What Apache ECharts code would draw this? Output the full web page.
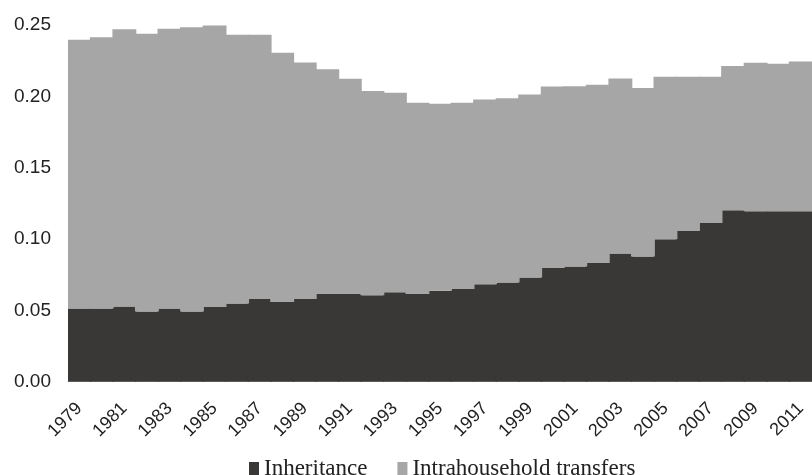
<!DOCTYPE html>
<html>
<head>
<meta charset="utf-8">
<script src="https://cdn.jsdelivr.net/npm/echarts@6/dist/echarts.min.js"></script>
<style>html,body{margin:0;padding:0;background:#fff;}#c{width:812px;height:475px;}</style>
</head>
<body>
<div id="c"></div>
<script>
const years = ['1979','1980','1981','1982','1983','1984','1985','1986','1987','1988','1989','1990','1991','1992','1993','1994','1995','1996','1997','1998','1999','2000','2001','2002','2003','2004','2005','2006','2007','2008','2009','2010','2011'];
const inheritance = [0.0513,0.0513,0.0527,0.0492,0.0513,0.0492,0.0524,0.0548,0.0580,0.0559,0.0580,0.0615,0.0615,0.0606,0.0627,0.0615,0.0638,0.0650,0.0683,0.0695,0.0730,0.0797,0.0807,0.0832,0.0898,0.0877,0.0998,0.1056,0.1112,0.1201,0.1194,0.1194,0.1194];
const totals = [0.2396,0.2415,0.2470,0.2438,0.2473,0.2485,0.2497,0.2431,0.2431,0.2305,0.2237,0.2190,0.2123,0.2037,0.2025,0.1955,0.1948,0.1955,0.1978,0.1987,0.2013,0.2069,0.2070,0.2081,0.2125,0.2058,0.2137,0.2137,0.2137,0.2212,0.2235,0.2228,0.2244];
const intrahousehold = totals.map((t, i) => +(t - inheritance[i]).toFixed(4));
const yTicks = [0, 0.05, 0.10, 0.15, 0.20, 0.25];

const dark = '#393836';
const light = '#a6a6a6';
const chart = echarts.init(document.getElementById('c'));
chart.setOption({
  animation: false,
  backgroundColor: '#ffffff',
  grid: { left: 68, right: -9, top: 25, bottom: 93.3, containLabel: false },
  legend: {
    left: 244, top: 452,
    itemWidth: 10, itemHeight: 13, itemGap: 30,
    icon: 'rect',
    textStyle: { fontFamily: 'Liberation Serif', fontSize: 23, color: '#222' },
    data: ['Inheritance', 'Intrahousehold transfers']
  },
  xAxis: {
    type: 'category',
    data: years,
    axisTick: { show: false },
    axisLine: { lineStyle: { color: '#c8c8c8', width: 1 } },
    axisLabel: { interval: 1, rotate: 45, margin: 24, fontFamily: 'Liberation Sans', fontSize: 18, color: '#222' }
  },
  yAxis: {
    type: 'value',
    min: yTicks[0], max: yTicks[yTicks.length - 1], interval: 0.05,
    splitLine: { show: false },
    axisLine: { show: false },
    axisTick: { show: false },
    axisLabel: { margin: 17, fontFamily: 'Liberation Sans', fontSize: 19, color: '#222', formatter: v => v.toFixed(2) }
  },
  series: [
    { name: 'Inheritance', type: 'bar', stack: 'a', data: inheritance, barWidth: '106%',
      itemStyle: { color: dark } },
    { name: 'Intrahousehold transfers', type: 'bar', stack: 'a', data: intrahousehold, barWidth: '106%',
      itemStyle: { color: light } }
  ]
});
</script>
</body>
</html>
